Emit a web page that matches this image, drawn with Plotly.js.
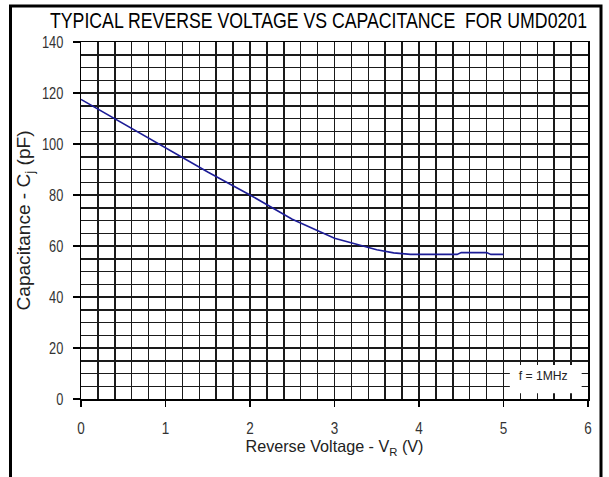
<!DOCTYPE html>
<html>
<head>
<meta charset="utf-8">
<script src="https://cdn.plot.ly/plotly-3.0.1.min.js"></script>
<style>
html,body{margin:0;padding:0;background:#fff;}
#chart{width:609px;height:477px;}
</style>
</head>
<body>
<div id="chart"></div>
<script>
// Reverse voltage (V) and capacitance (pF)
const voltage     = [0, 0.5, 1, 1.5, 2, 2.5, 3, 3.5, 3.7, 3.9, 4.45, 4.5, 4.8, 4.85, 5];
const capacitance = [117.5, 108, 98.5, 89, 80, 70.5, 63, 58.5, 57.3, 56.7, 56.7, 57.4, 57.4, 56.7, 56.7];

const xTickVals = [0, 1, 2, 3, 4, 5, 6];
const yTickVals = [0, 20, 40, 60, 80, 100, 120, 140];

const titleText = 'TYPICAL REVERSE VOLTAGE VS CAPACITANCE  FOR UMD0201';
const xTitle = 'Reverse Voltage - V<sub>R</sub> (V)';
const yTitle = 'Capacitance - C<sub>j</sub> (pF)';
const noteText = 'f = 1MHz';

const FONT = '"Liberation Sans", Arial, Helvetica, sans-serif';
const GRID = '#1a1a1a';

const trace = {
  x: voltage,
  y: capacitance,
  type: 'scatter',
  mode: 'lines',
  line: {color: '#1c1c96', width: 1.6},
  hoverinfo: 'skip',
  showlegend: false
};

const layout = {
  width: 609,
  height: 477,
  margin: {l: 81, r: 21, t: 42, b: 78},
  paper_bgcolor: '#ffffff',
  plot_bgcolor: '#ffffff',
  font: {family: FONT, color: '#222'},
  title: {
    text: titleText,
    font: {family: FONT, size: 21.5, color: '#000'},
    x: (318.5 - 81) / 507, xanchor: 'center', xref: 'paper',
    y: 1 - 20.5 / 477, yanchor: 'middle', yref: 'container'
  },
  xaxis: {
    range: [0, 6],
    tickvals: xTickVals,
    ticks: 'outside', ticklen: 6, tickwidth: 1.2, tickcolor: '#000',
    ticklabelstandoff: 8,
    tickfont: {family: FONT, size: 16.5, color: '#333'},
    showgrid: true, gridcolor: GRID, gridwidth: 1.5,
    minor: {dtick: 0.2, showgrid: true, gridcolor: GRID, gridwidth: 1.5, ticks: ''},
    showline: true, linecolor: '#000', linewidth: 1.5, mirror: true,
    zeroline: false,
    fixedrange: true,
    title: {text: xTitle, font: {family: FONT, size: 16.5, color: '#222'}, standoff: 3}
  },
  yaxis: {
    range: [0, 140],
    tickvals: yTickVals,
    ticks: 'outside', ticklen: 7, tickwidth: 1.2, tickcolor: '#000',
    ticklabelstandoff: 6,
    tickfont: {family: FONT, size: 16, color: '#333'},
    showgrid: true, gridcolor: GRID, gridwidth: 1.5,
    minor: {dtick: 5, showgrid: true, gridcolor: GRID, gridwidth: 1.5, ticks: ''},
    showline: true, linecolor: '#000', linewidth: 1.5, mirror: true,
    zeroline: false,
    fixedrange: true,
    title: {text: yTitle, font: {family: FONT, size: 18, color: '#222'}, standoff: 0}
  },
  shapes: [
    {type: 'rect', xref: 'x', yref: 'y', x0: 5.075, x1: 5.925, y0: 2.3, y1: 13.3,
     fillcolor: '#ffffff', line: {width: 0}, layer: 'above'},
    {type: 'rect', xref: 'paper', yref: 'paper',
     x0: (10.5 - 81) / 507, x1: (601 - 81) / 507,
     y0: -0.4, y1: (399 - 6) / 357,
     fillcolor: 'rgba(0,0,0,0)', line: {color: '#000', width: 3}, layer: 'above'}
  ],
  annotations: [
    {text: noteText, xref: 'x', yref: 'y', x: 5.47, y: 9.4, showarrow: false,
     font: {family: FONT, size: 13, color: '#222'}, xanchor: 'center', yanchor: 'middle'}
  ]
};

function squeeze(sel, amount, absolute) {
  document.querySelectorAll(sel).forEach(function (t) {
    const L = t.getComputedTextLength();
    if (!L) return;
    const target = absolute ? amount : L * amount;
    t.setAttribute('textLength', target.toFixed(1));
    t.setAttribute('lengthAdjust', 'spacingAndGlyphs');
  });
}

Plotly.newPlot('chart', [trace], layout, {staticPlot: true, displayModeBar: false}).then(function () {
  squeeze('.gtitle', 537, true);
  squeeze('.xtick text', 0.82, false);
  squeeze('.ytick text', 0.8, false);
  squeeze('.xtitle', 178, true);
  squeeze('.ytitle', 180, true);
  squeeze('.annotation-text', 49, true);
});
</script>
</body>
</html>
